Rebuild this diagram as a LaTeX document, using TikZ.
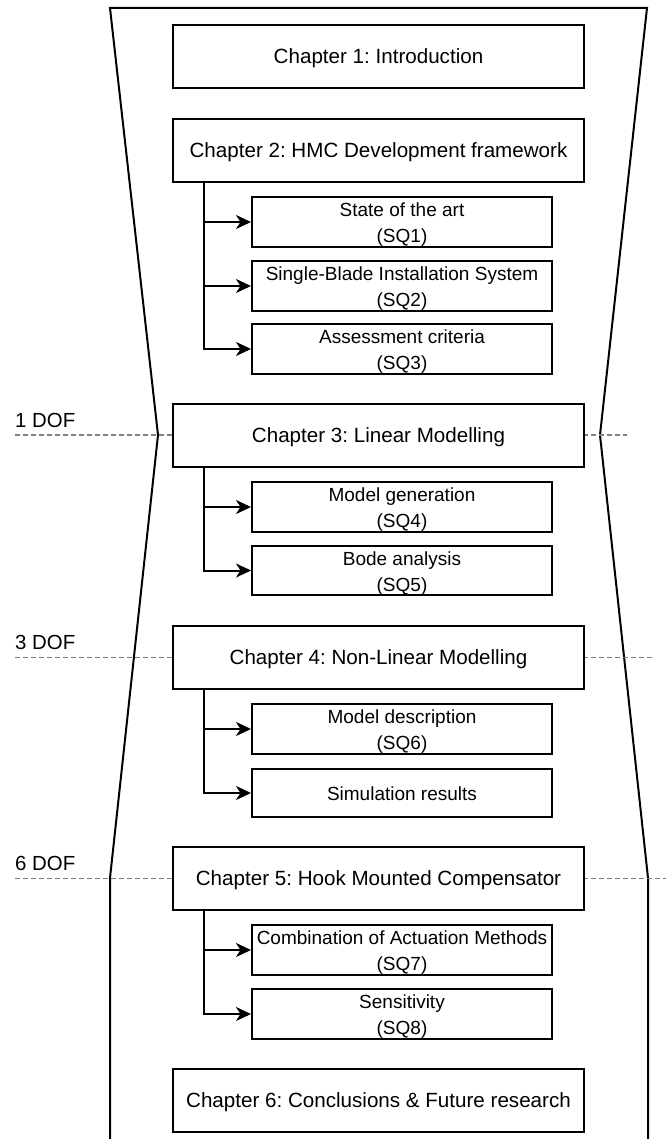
\documentclass[tikz,border=0pt]{standalone}
\usepackage{fontspec}
\setmainfont{Liberation Sans}
\usetikzlibrary{arrows.meta}
\definecolor{dofgray}{RGB}{128,128,128}
\frenchspacing
\newcommand{\subtopstrut}{\rule{0pt}{19.5pt}}
\tikzset{
  chapbox/.style={draw, line width=2pt, fill=white, minimum width=411pt, minimum height=63pt, inner sep=0pt, text height=19.2pt, text depth=4.5pt, font=\fontsize{20.6}{24}\selectfont},
  subbox/.style={draw, line width=2pt, fill=white, minimum width=300pt, minimum height=48pt, inner sep=0pt, align=center, font=\fontsize{19}{26}\selectfont},
  dofline/.style={draw=dofgray, line width=1.8pt, dash pattern=on 4.5pt off 3.5pt},
  doflabel/.style={anchor=base west, inner sep=0pt, font=\fontsize{20.4}{24}\selectfont},
  branch/.style={line width=2pt, -{Stealth[length=15pt, width=14pt, inset=4.5pt]}},
  outline/.style={line width=2pt, line join=miter}
}
\begin{document}
\frenchspacing
\begin{tikzpicture}[x=1pt, y=-1pt]
\useasboundingbox (0,0) rectangle (665,1139);
% outline
\draw[outline] (110,1150) -- (110,878) -- (158,435) -- (110,8) -- (647,8) -- (600,435) -- (648,878) -- (648,1150);
% dof coordinates
\coordinate (d1l) at (15,435);
\coordinate (d1r) at (627,435);
\coordinate (d3l) at (15,657.5);
\coordinate (d3r) at (653,657.5);
\coordinate (d6l) at (15,878.5);
\coordinate (d6r) at (670,878.5);
\draw[dofline] (d1l) -- (d1r);
\draw[dofline] (d3l) -- (d3r);
\draw[dofline] (d6l) -- (d6r);
\node[doflabel] (l1) at (15,427) {1 DOF};
\node[doflabel] (l3) at (15,649) {3 DOF};
\node[doflabel] (l6) at (15,870) {6 DOF};
% chapters
\node[chapbox] (c1) at (378.5,56.5) {Chapter 1: Introduction};
\node[chapbox] (c2) at (378.5,150.5) {Chapter 2: HMC Development framework};
\node[chapbox] (c3) at (378.5,435.5) {Chapter 3: Linear Modelling};
\node[chapbox] (c4) at (378.5,657.5) {Chapter 4: Non-Linear Modelling};
\node[chapbox] (c5) at (378.5,878.5) {Chapter 5: Hook Mounted Compensator};
\node[chapbox] (c6) at (378.5,1100) {Chapter 6: Conclusions \& Future research};
% sub boxes
\node[subbox] (s1) at (402,222) {\subtopstrut State of the art\\(SQ1)};
\node[subbox] (s2) at (402,286) {\subtopstrut Single-Blade Installation System\\(SQ2)};
\node[subbox] (s3) at (402,349) {\subtopstrut Assessment criteria\\(SQ3)};
\node[subbox] (s4) at (402,507) {\subtopstrut Model generation\\(SQ4)};
\node[subbox] (s5) at (402,570.5) {\subtopstrut Bode analysis\\(SQ5)};
\node[subbox] (s6) at (402,729) {\subtopstrut Model description\\(SQ6)};
\node[subbox, text height=15pt, text depth=0pt] (s7) at (402,793) {Simulation results};
\node[subbox] (s8) at (402,950) {\subtopstrut Combination of Actuation Methods\\(SQ7)};
\node[subbox] (s9) at (402,1014) {\subtopstrut Sensitivity\\(SQ8)};
% branches
\foreach \c/\s in {c2/s1,c2/s2,c2/s3,c3/s4,c3/s5,c4/s6,c4/s7,c5/s8,c5/s9}{
  \draw[branch] ([xshift=32pt]\c.south west) |- (\s.west);
}
\end{tikzpicture}
\end{document}
